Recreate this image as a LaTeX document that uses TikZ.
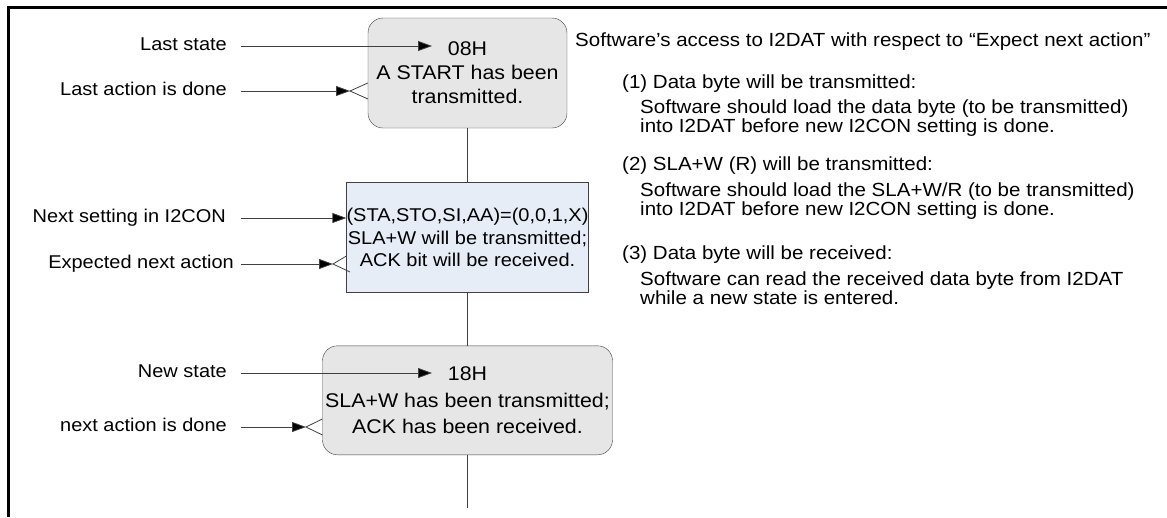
\documentclass[tikz,border=0pt]{standalone}
\usepackage{fontspec}
\setmainfont{Liberation Sans}[FakeStretch=1.08]
\usetikzlibrary{arrows.meta,positioning}
\definecolor{stategray}{HTML}{E6E6E6}
\definecolor{setblue}{HTML}{E6EDF7}
\definecolor{edgegray}{HTML}{404040}

\begin{document}
\begin{tikzpicture}[
  x=1pt, y=-1pt,
  font=\fontsize{18.5}{22.5}\selectfont,
  statebox/.style={
    rounded corners=15pt,
    draw=edgegray,
    fill=stategray,
    align=center,
    inner sep=0pt,
    font=\fontsize{19.8}{24}\selectfont
  },
  setbox/.style={
    draw=edgegray,
    fill=setblue,
    align=center,
    inner sep=0pt
  },
  lbl/.style={anchor=east, inner sep=0pt, text height=13.5pt, text depth=4pt},
  note/.style={anchor=base west, inner sep=0pt, align=left,
    font=\fontsize{19}{17.5}\selectfont},
  arrow/.style={-{Triangle[length=14pt,width=10pt,fill=black]}, draw=edgegray, line width=0.8pt},
  wire/.style={draw=edgegray, line width=0.8pt}
]
\useasboundingbox (0,0) rectangle (1167,517);
\draw[line width=2.5pt] (8.5,517) -- (8.5,7.5) -- (1167,7.5);

% state and setting boxes
\node[statebox, minimum width=199pt, minimum height=110pt] (S08) at (467.5,73)
{08H\\A START has been\\transmitted.};
\node[setbox, minimum width=236pt, minimum height=110pt, below=54pt of S08] (CON)
{(STA,STO,SI,AA)=(0,0,1,X)\\SLA+W will be transmitted;\\ACK bit will be received.};
\node[statebox, minimum width=290pt, minimum height=109pt, below=53pt of CON,
  font=\fontsize{19.8}{26.5}\selectfont] (S18)
{18H\\SLA+W has been transmitted;\\ACK has been received.};
\coordinate (end) at (467.5,508);

\draw[wire] (S08) -- (CON);
\draw[wire] (CON) -- (S18);
\draw[wire] (S18) -- (end);

% labels on the left
\node[lbl] (last) at (227,46) {Last state};
\node[lbl] (lastdone) at (227,91) {Last action is done};
\node[lbl] (next) at (226,218) {Next setting in I2CON};
\node[lbl] (expect) at (234,264) {Expected next action};
\node[lbl] (new) at (227,373) {New state};
\node[lbl] (newdone) at (227,427) {next action is done};

\coordinate (lasttip) at (432,46);
\coordinate (lastdonetip) at (350,91);
\coordinate (expecttip) at (333,264);
\coordinate (newtip) at (432,373);
\coordinate (newdonetip) at (306,427);

\draw[arrow] ([xshift=14pt]last.east) -- (lasttip);
\draw[arrow] ([xshift=14pt]lastdone.east) -- (lastdonetip);
\draw[wire] (lastdonetip -| S08.west) ++(0,-8) -- (lastdonetip) -- ++(18,8);
\draw[arrow] ([xshift=15pt]next.east) -- (next.east -| CON.west);
\draw[arrow] ([xshift=7pt]expect.east) -- (expecttip);
\draw[wire] (expecttip -| CON.west) ++(0,-8) -- (expecttip) -- ++(17,8);
\draw[arrow] ([xshift=14pt]new.east) -- (newtip);
\draw[arrow] ([xshift=14pt]newdone.east) -- (newdonetip);
\draw[wire] (newdonetip -| S18.west) ++(0,-8) -- (newdonetip) -- ++(16.5,8);

% notes on the right (two-line notes sit on their last baseline)
\node[note] (title) at (575,46.5) {Software’s access to I2DAT with respect to “Expect next action”};
\node[note] (n1) at (622,88) {(1) Data byte will be transmitted:};
\node[note] (n1a) at (640,132.5) {Software should load the data byte (to be transmitted)\\into I2DAT before new I2CON setting is done.};
\node[note] (n2) at (622,170) {(2) SLA+W (R) will be transmitted:};
\node[note] (n2a) at (640,215.5) {Software should load the SLA+W/R (to be transmitted)\\into I2DAT before new I2CON setting is done.};
\node[note] (n3) at (622,259) {(3) Data byte will be received:};
\node[note] (n3a) at (640,304.5) {Software can read the received data byte from I2DAT\\while a new state is entered.};
\end{tikzpicture}
\end{document}
